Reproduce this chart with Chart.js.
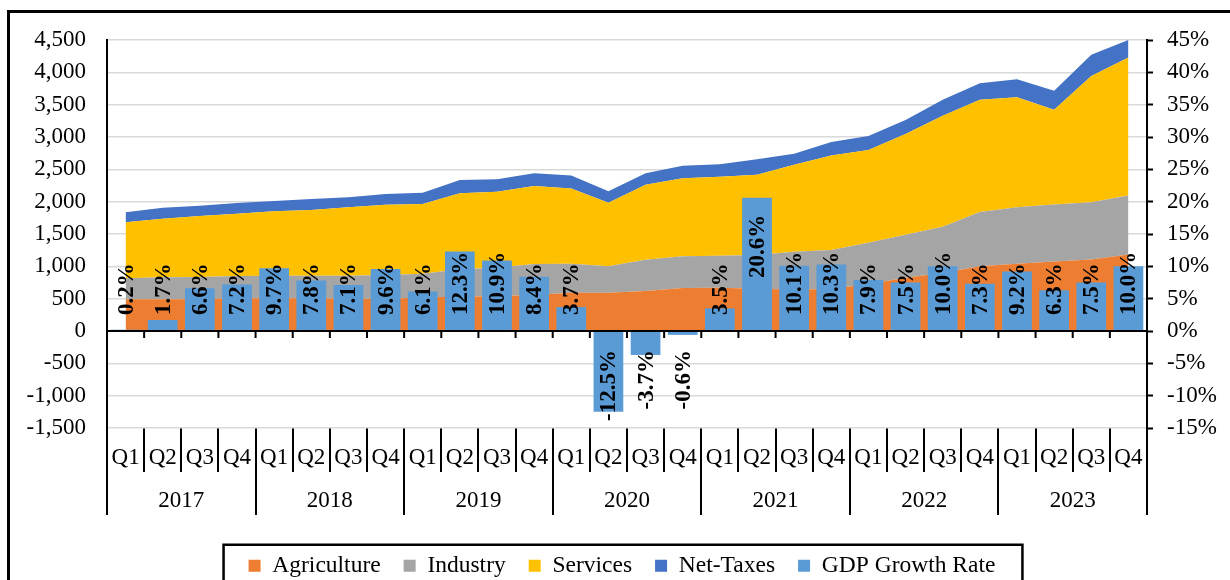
<!DOCTYPE html>
<html>
<head>
<meta charset="utf-8">
<script src="https://cdn.jsdelivr.net/npm/chart.js@4.4.1/dist/chart.umd.min.js"></script>
<style>
  html, body { margin: 0; padding: 0; background: #fff; overflow: hidden; width: 1230px; height: 580px; }
  #frame { position: absolute; left: 7px; top: 10px; width: 1240px; height: 600px; border: 3px solid #000; background: #fff; }
  canvas { display: block; }
</style>
</head>
<body>
<div id="frame"><canvas id="chart" width="1240" height="600"></canvas></div>
<script>
const quarters = [
  'Q1', 'Q2', 'Q3', 'Q4', 'Q1', 'Q2', 'Q3', 'Q4', 'Q1', 'Q2', 'Q3', 'Q4', 'Q1', 'Q2',
  'Q3', 'Q4', 'Q1', 'Q2', 'Q3', 'Q4', 'Q1', 'Q2', 'Q3', 'Q4', 'Q1', 'Q2', 'Q3', 'Q4'
];
const years = ['2017', '2018', '2019', '2020', '2021', '2022', '2023'];

const agriculture = [490, 490, 490, 505, 505, 505, 500, 495, 521, 531, 541, 557, 590, 593,
  619, 665, 670, 655, 640, 650, 725, 825, 895, 1003, 1039, 1075, 1106, 1183];
const industry = [324, 340, 345, 346, 351, 351, 356, 371, 366, 423, 438, 479, 451, 407,
  484, 490, 495, 520, 587, 603, 641, 665, 717, 839, 875, 880, 885, 911];
const services = [867, 907, 943, 964, 995, 1015, 1057, 1088, 1077, 1175, 1176, 1206, 1164, 985,
  1160, 1206, 1222, 1243, 1345, 1459, 1433, 1557, 1718, 1733, 1702, 1466, 1954, 2134];
const netTaxes = [154, 170, 160, 165, 159, 170, 154, 165, 175, 206, 191, 196, 200, 175,
  175, 196, 191, 237, 170, 211, 217, 216, 247, 257, 278, 293, 325, 273];
const gdpGrowth = [0.2, 1.7, 6.6, 7.2, 9.7, 7.8, 7.1, 9.6, 6.1, 12.3, 10.9, 8.4, 3.7, -12.5,
  -3.7, -0.6, 3.5, 20.6, 10.1, 10.3, 7.9, 7.5, 10.0, 7.3, 9.2, 6.3, 7.5, 10.0];

const leftTicks = [-1500, -1000, -500, 0, 500, 1000, 1500, 2000, 2500, 3000, 3500, 4000, 4500];
const rightTicks = [-15, -10, -5, 0, 5, 10, 15, 20, 25, 30, 35, 40, 45];

const serif = "'Liberation Serif', 'Times New Roman', serif";

// black zero line with small ticks between the quarters
const zeroLine = {
  id: 'zeroLine',
  afterDatasetsDraw(chart) {
    const {ctx, chartArea, scales: {x, y}} = chart;
    const y0 = y.getPixelForValue(0);
    const half = (x.getPixelForValue(1) - x.getPixelForValue(0)) / 2;
    ctx.save();
    ctx.strokeStyle = '#000';
    ctx.lineWidth = 2;
    ctx.beginPath();
    ctx.moveTo(chartArea.left, y0);
    ctx.lineTo(chartArea.right, y0);
    for (let i = 1; i < quarters.length; i++) {
      const px = x.getPixelForValue(i) - half;
      ctx.moveTo(px, y0);
      ctx.lineTo(px, y0 + 7);
    }
    ctx.stroke();
    ctx.restore();
  }
};

// rotated value labels on the growth bars
const barLabels = {
  id: 'barLabels',
  afterDatasetsDraw(chart) {
    const {ctx} = chart;
    const meta = chart.getDatasetMeta(4);
    const y0 = chart.scales.y2.getPixelForValue(0);
    ctx.save();
    ctx.font = 'bold 23px ' + serif;
    ctx.fillStyle = '#000';
    ctx.textAlign = 'left';
    ctx.textBaseline = 'middle';
    meta.data.forEach((bar, i) => {
      const v = gdpGrowth[i];
      const text = v.toFixed(1) + '%';
      const w = ctx.measureText(text).width;
      const start = v >= 0 ? Math.min(y0 - 16, bar.y + 17 + w) : y0 + 19 + w;
      ctx.save();
      ctx.translate(bar.x, start);
      ctx.rotate(-Math.PI / 2);
      ctx.fillText(text, 0, 1);
      ctx.restore();
    });
    ctx.restore();
  }
};

// frame around the legend
const legendFrame = {
  id: 'legendFrame',
  afterDraw(chart) {
    const boxes = chart.legend.legendHitBoxes;
    if (!boxes || !boxes.length) return;
    const {ctx} = chart;
    let left = Infinity, right = -Infinity;
    boxes.forEach(b => {
      left = Math.min(left, b.left);
      right = Math.max(right, b.left + b.width);
    });
    const cy = boxes[0].top + boxes[0].height / 2;
    ctx.save();
    ctx.strokeStyle = '#000';
    ctx.lineWidth = 2.5;
    ctx.strokeRect(left - 25, cy - 21, right - left + 52, 80);
    ctx.restore();
  }
};

const ctx = document.getElementById('chart').getContext('2d');

const chart = new Chart(ctx, {
  type: 'bar',
  data: {
    labels: quarters,
    datasets: [
      { type: 'line', label: 'Agriculture', data: agriculture, fill: 'origin', backgroundColor: '#ED7D31',
        borderColor: '#ED7D31', borderWidth: 0, pointRadius: 0, order: 1, yAxisID: 'y' },
      { type: 'line', label: 'Industry', data: industry, fill: '-1', backgroundColor: '#A5A5A5',
        borderColor: '#A5A5A5', borderWidth: 0, pointRadius: 0, order: 1, yAxisID: 'y' },
      { type: 'line', label: 'Services', data: services, fill: '-1', backgroundColor: '#FFC000',
        borderColor: '#FFC000', borderWidth: 0, pointRadius: 0, order: 1, yAxisID: 'y' },
      { type: 'line', label: 'Net-Taxes', data: netTaxes, fill: '-1', backgroundColor: '#4472C4',
        borderColor: '#4472C4', borderWidth: 0, pointRadius: 0, order: 1, yAxisID: 'y' },
      { type: 'bar', label: 'GDP Growth Rate', data: gdpGrowth, backgroundColor: '#5B9BD5',
        borderWidth: 0, barPercentage: 0.8, categoryPercentage: 1, order: 0, yAxisID: 'y2' }
    ]
  },
  options: {
    responsive: false,
    animation: false,
    devicePixelRatio: 1,
    layout: { padding: { left: 17, right: 33, top: 27, bottom: 25.5 } },
    scales: {
      x: {
        type: 'category',
        offset: true,
        grid: { offset: true, drawOnChartArea: false, drawTicks: true, tickLength: 44, color: '#000', lineWidth: 2 },
        border: { display: false },
        ticks: { padding: -28, autoSkip: false, maxRotation: 0, minRotation: 0, color: '#000',
          font: { family: serif, size: 23 } },
        afterFit: s => { s.height = 44; s.paddingLeft = 0; s.paddingRight = 0; }
      },
      x2: {
        type: 'category',
        labels: years,
        position: 'bottom',
        weight: 1,
        offset: true,
        grid: { offset: true, drawOnChartArea: false, drawTicks: true, tickLength: 43, color: '#000', lineWidth: 2 },
        border: { display: false },
        ticks: { padding: -28, autoSkip: false, maxRotation: 0, minRotation: 0, color: '#000',
          font: { family: serif, size: 23 } },
        afterFit: s => { s.height = 59; s.paddingLeft = 0; s.paddingRight = 0; }
      },
      y: {
        stacked: true,
        position: 'left',
        min: leftTicks[0],
        max: leftTicks[leftTicks.length - 1],
        ticks: { stepSize: leftTicks[1] - leftTicks[0], padding: 21, color: '#000',
          font: { family: serif, size: 23 }, callback: v => v.toLocaleString('en-US') },
        grid: { color: '#d9d9d9', lineWidth: 1.5, drawTicks: false },
        border: { display: true, color: '#000', width: 2 },
        afterFit: s => { s.width = 80; s.paddingTop = 14; s.paddingBottom = 14; }
      },
      y2: {
        position: 'right',
        min: rightTicks[0],
        max: rightTicks[rightTicks.length - 1],
        ticks: { stepSize: rightTicks[1] - rightTicks[0], padding: 14, color: '#000',
          font: { family: serif, size: 23 }, callback: v => v + '%' },
        grid: { drawOnChartArea: false, drawTicks: true, tickLength: 6, tickColor: '#000', tickWidth: 2 },
        border: { display: true, color: '#000', width: 2 },
        afterFit: s => { s.width = 70; s.paddingTop = 14; s.paddingBottom = 14; }
      }
    },
    plugins: {
      legend: {
        position: 'bottom',
        labels: {
          boxWidth: 12,
          boxHeight: 12,
          padding: 23,
          color: '#000',
          font: { family: serif, size: 23.5 },
          sort: (a, b) => a.datasetIndex - b.datasetIndex
        }
      },
      tooltip: { enabled: false }
    }
  },
  plugins: [zeroLine, barLabels, legendFrame]
});
</script>
</body>
</html>
